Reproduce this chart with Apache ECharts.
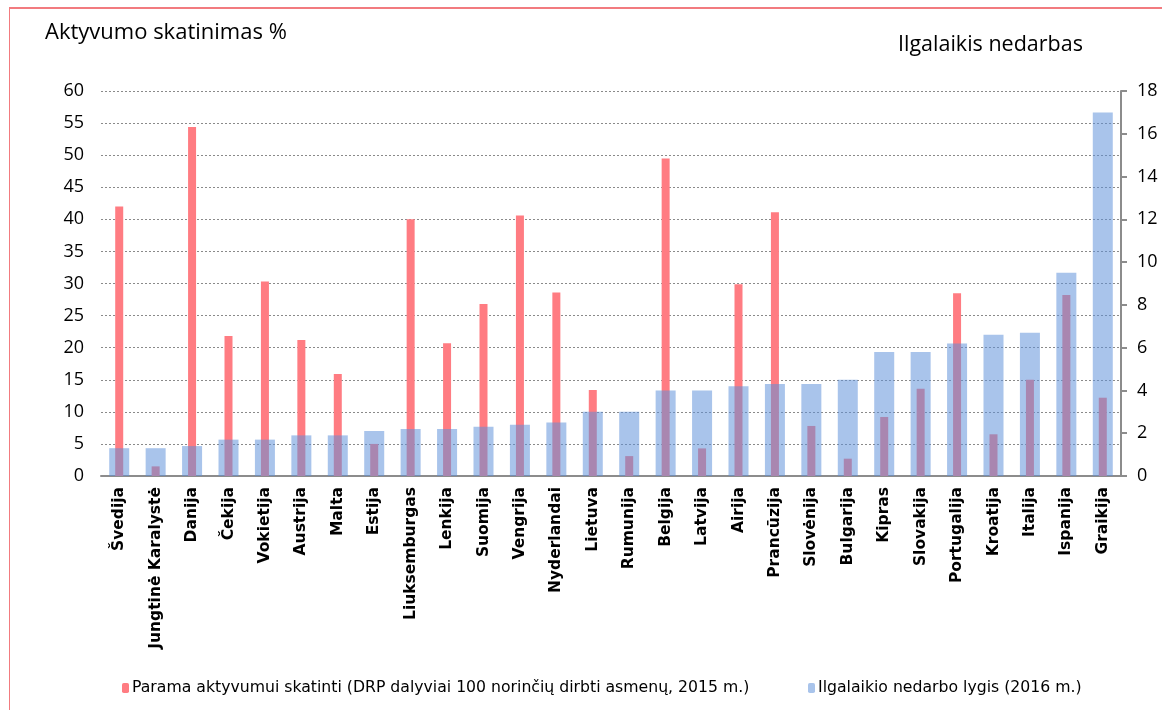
<!DOCTYPE html>
<html>
<head>
<meta charset="utf-8">
<title>Aktyvumo skatinimas ir ilgalaikis nedarbas</title>
<script src="https://cdn.jsdelivr.net/npm/echarts@6/dist/echarts.min.js"></script>
<style>
    html, body { margin: 0; padding: 0; background: #fff; }
    #frame { position: absolute; left: 9px; top: 7px; width: 1300px; height: 900px;
             border-left: 1px solid #f27b7f; border-top: 2px solid #f27b7f; }
    #main { position: absolute; left: 0; top: 0; width: 1162px; height: 710px; }
</style>
</head>
<body>
<div id="frame"></div>
<div id="main"></div>
<script type="text/javascript">
    // šalys
    var salys = ['Švedija', 'Jungtinė Karalystė', 'Danija', 'Čekija', 'Vokietija', 'Austrija', 'Malta',
        'Estija', 'Liuksemburgas', 'Lenkija', 'Suomija', 'Vengrija', 'Nyderlandai', 'Lietuva',
        'Rumunija', 'Belgija', 'Latvija', 'Airija', 'Prancūzija', 'Slovėnija', 'Bulgarija',
        'Kipras', 'Slovakija', 'Portugalija', 'Kroatija', 'Italija', 'Ispanija', 'Graikija'];

    // DRP dalyviai 100 norinčių dirbti asmenų, 2015 m. (kairė ašis)
    var parama = [42.0, 1.5, 54.4, 21.8, 30.3, 21.2, 15.9, 5.0, 40.0, 20.7, 26.8, 40.6, 28.6, 13.4,
        3.1, 49.5, 4.3, 29.9, 41.1, 7.8, 2.7, 9.2, 13.6, 28.5, 6.5, 15.0, 28.2, 12.2];

    // ilgalaikio nedarbo lygis, 2016 m. (dešinė ašis)
    var nedarbas = [1.3, 1.3, 1.4, 1.7, 1.7, 1.9, 1.9, 2.1, 2.2, 2.2, 2.3, 2.4, 2.5, 3.0,
        3.0, 4.0, 4.0, 4.2, 4.3, 4.3, 4.5, 5.8, 5.8, 6.2, 6.6, 6.7, 9.5, 17.0];

    var kaireTicks = [0, 5, 10, 15, 20, 25, 30, 35, 40, 45, 50, 55, 60];
    var desineTicks = [0, 2, 4, 6, 8, 10, 12, 14, 16, 18];

    var pavParama = 'Parama aktyvumui skatinti (DRP dalyviai 100 norinčių dirbti asmenų, 2015 m.)';
    var pavNedarbas = 'Ilgalaikio nedarbo lygis (2016 m.)';

    var myChart = echarts.init(document.getElementById('main'));

    var option = {
        animation: false,
        title: [
            { text: 'Aktyvumo skatinimas %', left: 40, top: 17,
              textStyle: { fontFamily: 'Open Sans', fontSize: 22, fontWeight: 'normal', color: '#000' } },
            { text: 'Ilgalaikis nedarbas', left: 893, top: 29,
              textStyle: { fontFamily: 'Open Sans', fontSize: 21.5, fontWeight: 'normal', color: '#000' } }
        ],
        legend: [
            { data: [pavParama], left: 117, top: 675, itemWidth: 7, itemHeight: 10, itemGap: 0,
              textStyle: { fontFamily: 'DejaVu Sans', fontSize: 15.7, color: '#000', padding: [0, 0, 0, -2] } },
            { data: [pavNedarbas], left: 803, top: 675, itemWidth: 7, itemHeight: 10, itemGap: 0,
              textStyle: { fontFamily: 'DejaVu Sans', fontSize: 15.7, color: '#000', padding: [0, 0, 0, -2] } }
        ],
        grid: { left: 101, right: 41, top: 91, bottom: 234, containLabel: false },
        xAxis: [
            {
                type: 'category',
                data: salys,
                axisLine: { lineStyle: { color: '#8c8c8c', width: 2 } },
                axisTick: { show: false },
                axisLabel: { rotate: 90, interval: 0, margin: 11, fontFamily: 'DejaVu Sans',
                    fontWeight: 'bold', fontSize: 15.5, color: '#000' }
            },
            {
                type: 'category',
                data: salys,
                show: false
            }
        ],
        yAxis: [
            {
                type: 'value', min: 0, max: 60, interval: 5,
                axisLine: { show: false },
                axisTick: { show: false },
                axisLabel: { margin: 17, fontFamily: 'Open Sans', fontSize: 18, color: '#000',
                    customValues: kaireTicks },
                splitLine: { lineStyle: { color: '#8a8a8a', type: [2, 2], width: 1 } }
            },
            {
                type: 'value', min: 0, max: 18, interval: 2,
                position: 'right',
                axisLine: { show: true, lineStyle: { color: '#8c8c8c', width: 2 } },
                axisTick: { show: true, length: 6, lineStyle: { color: '#8c8c8c', width: 2 } },
                axisLabel: { margin: 16, fontFamily: 'Open Sans', fontSize: 18, color: '#000',
                    customValues: desineTicks },
                splitLine: { show: false }
            }
        ],
        series: [
            {
                name: pavParama,
                type: 'bar',
                xAxisIndex: 0,
                yAxisIndex: 0,
                barWidth: 8,
                itemStyle: { color: '#ff7c82' },
                data: parama
            },
            {
                name: pavNedarbas,
                type: 'bar',
                xAxisIndex: 1,
                yAxisIndex: 1,
                barWidth: 20,
                itemStyle: { color: 'rgba(92,143,217,0.53)' },
                data: nedarbas
            }
        ]
    };

    myChart.setOption(option);
</script>
</body>
</html>
